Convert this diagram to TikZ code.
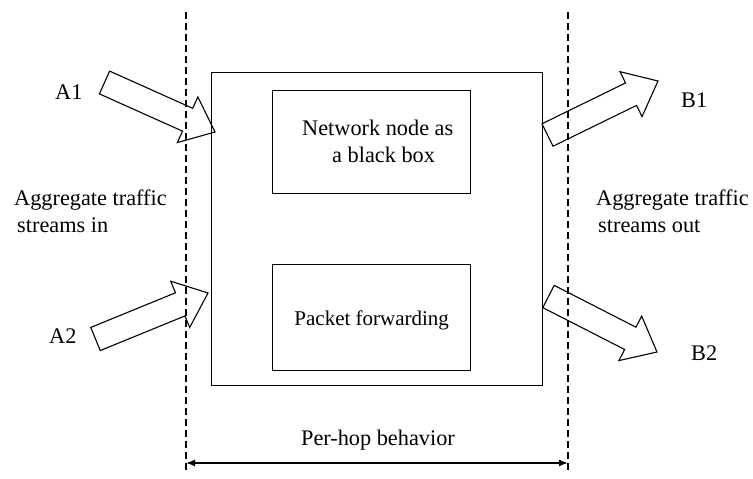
\documentclass[tikz,border=0pt]{standalone}
\usepackage{fontspec}
\setmainfont{Liberation Serif}
\usetikzlibrary{calc,arrows.meta}

% block arrow from tail coordinate #1 to tip coordinate #2
\newcommand\blockarrow[2]{%
  \coordinate (ba-base) at ($(#2)!30pt!(#1)$);
  \draw[blockline]
    ($(#1)!12.5pt!90:(#2)$) -- ($(ba-base)!12.5pt!90:(#2)$) --
    ($(ba-base)!25pt!90:(#2)$) -- (#2) --
    ($(ba-base)!25pt!-90:(#2)$) -- ($(ba-base)!12.5pt!-90:(#2)$) --
    ($(#1)!12.5pt!-90:(#2)$) -- cycle;
}

\begin{document}
\begin{tikzpicture}[x=1pt,y=-1pt,
  txt/.style={font=\fontsize{22.3}{27}\selectfont, inner sep=0pt},
  boxline/.style={draw, line width=1.4pt},
  blockline/.style={draw, line width=1.1pt, line join=miter},
  boundary/.style={line width=1.1pt, dash pattern=on 7pt off 4pt},
  span/.style={line width=1.4pt, {Latex[length=9pt,width=7pt]}-{Latex[length=9pt,width=7pt]}}]
  \useasboundingbox (0,0) rectangle (753,479);
  \fill[white] (0,0) rectangle (753,479);

  % boundaries of the node
  \coordinate (ltop) at (186,12);
  \coordinate (lbot) at (186,472);
  \coordinate (rtop) at (568,12);
  \coordinate (rbot) at (568,472);
  \draw[boundary] (ltop) -- (lbot);
  \draw[boundary] (rtop) -- (rbot);

  % network node and its parts
  \node[boxline, minimum width=331, minimum height=313, anchor=north west] (node) at (211,72) {};
  \node[boxline, minimum width=198, minimum height=103, anchor=north west] (blackbox) at (272,90) {};
  \node[boxline, minimum width=198, minimum height=106, anchor=north west] (fwd) at (272,264) {};

  \node[txt, anchor=base west] (bbtext1) at (302,135) {Network node as};
  \node[txt, anchor=base west] (bbtext2) at (332,162) {a black box};
  \node[txt, font=\fontsize{21}{27}\selectfont, anchor=base] (fwdtext) at (fwd.center |- 0,325) {Packet forwarding};

  % incoming and outgoing aggregates
  \coordinate (a1tail) at (104.5,82.5);
  \coordinate (a1tip) at (215,132);
  \coordinate (a2tail) at (95.5,339);
  \coordinate (a2tip) at (208,293);
  \coordinate (b1tail) at (547.5,135);
  \coordinate (b1tip) at (658,81);
  \coordinate (b2tail) at (548.5,296.5);
  \coordinate (b2tip) at (657,352);
  \blockarrow{a1tail}{a1tip}
  \blockarrow{a2tail}{a2tip}
  \blockarrow{b1tail}{b1tip}
  \blockarrow{b2tail}{b2tip}

  \node[txt, anchor=base west] (a1) at (55,99) {A1};
  \node[txt, anchor=base west] (a2) at (49,343) {A2};
  \node[txt, anchor=base west] (b1) at (681,107) {B1};
  \node[txt, anchor=base west] (b2) at (691,360) {B2};

  \node[txt, anchor=base west] (inl1) at (14,205) {Aggregate traffic};
  \node[txt, anchor=base west] (inl2) at (17,232) {streams in};
  \node[txt, anchor=base west] (outl1) at (596,205) {Aggregate traffic};
  \node[txt, anchor=base west] (outl2) at (598,232) {streams out};

  % per-hop behaviour span
  \coordinate (spanl) at (186,463);
  \coordinate (spanr) at (568,463);
  \draw[span] (spanl) -- (spanr);
  \node[txt, anchor=base] (phb) at (378,445) {Per-hop behavior};
\end{tikzpicture}
\end{document}
